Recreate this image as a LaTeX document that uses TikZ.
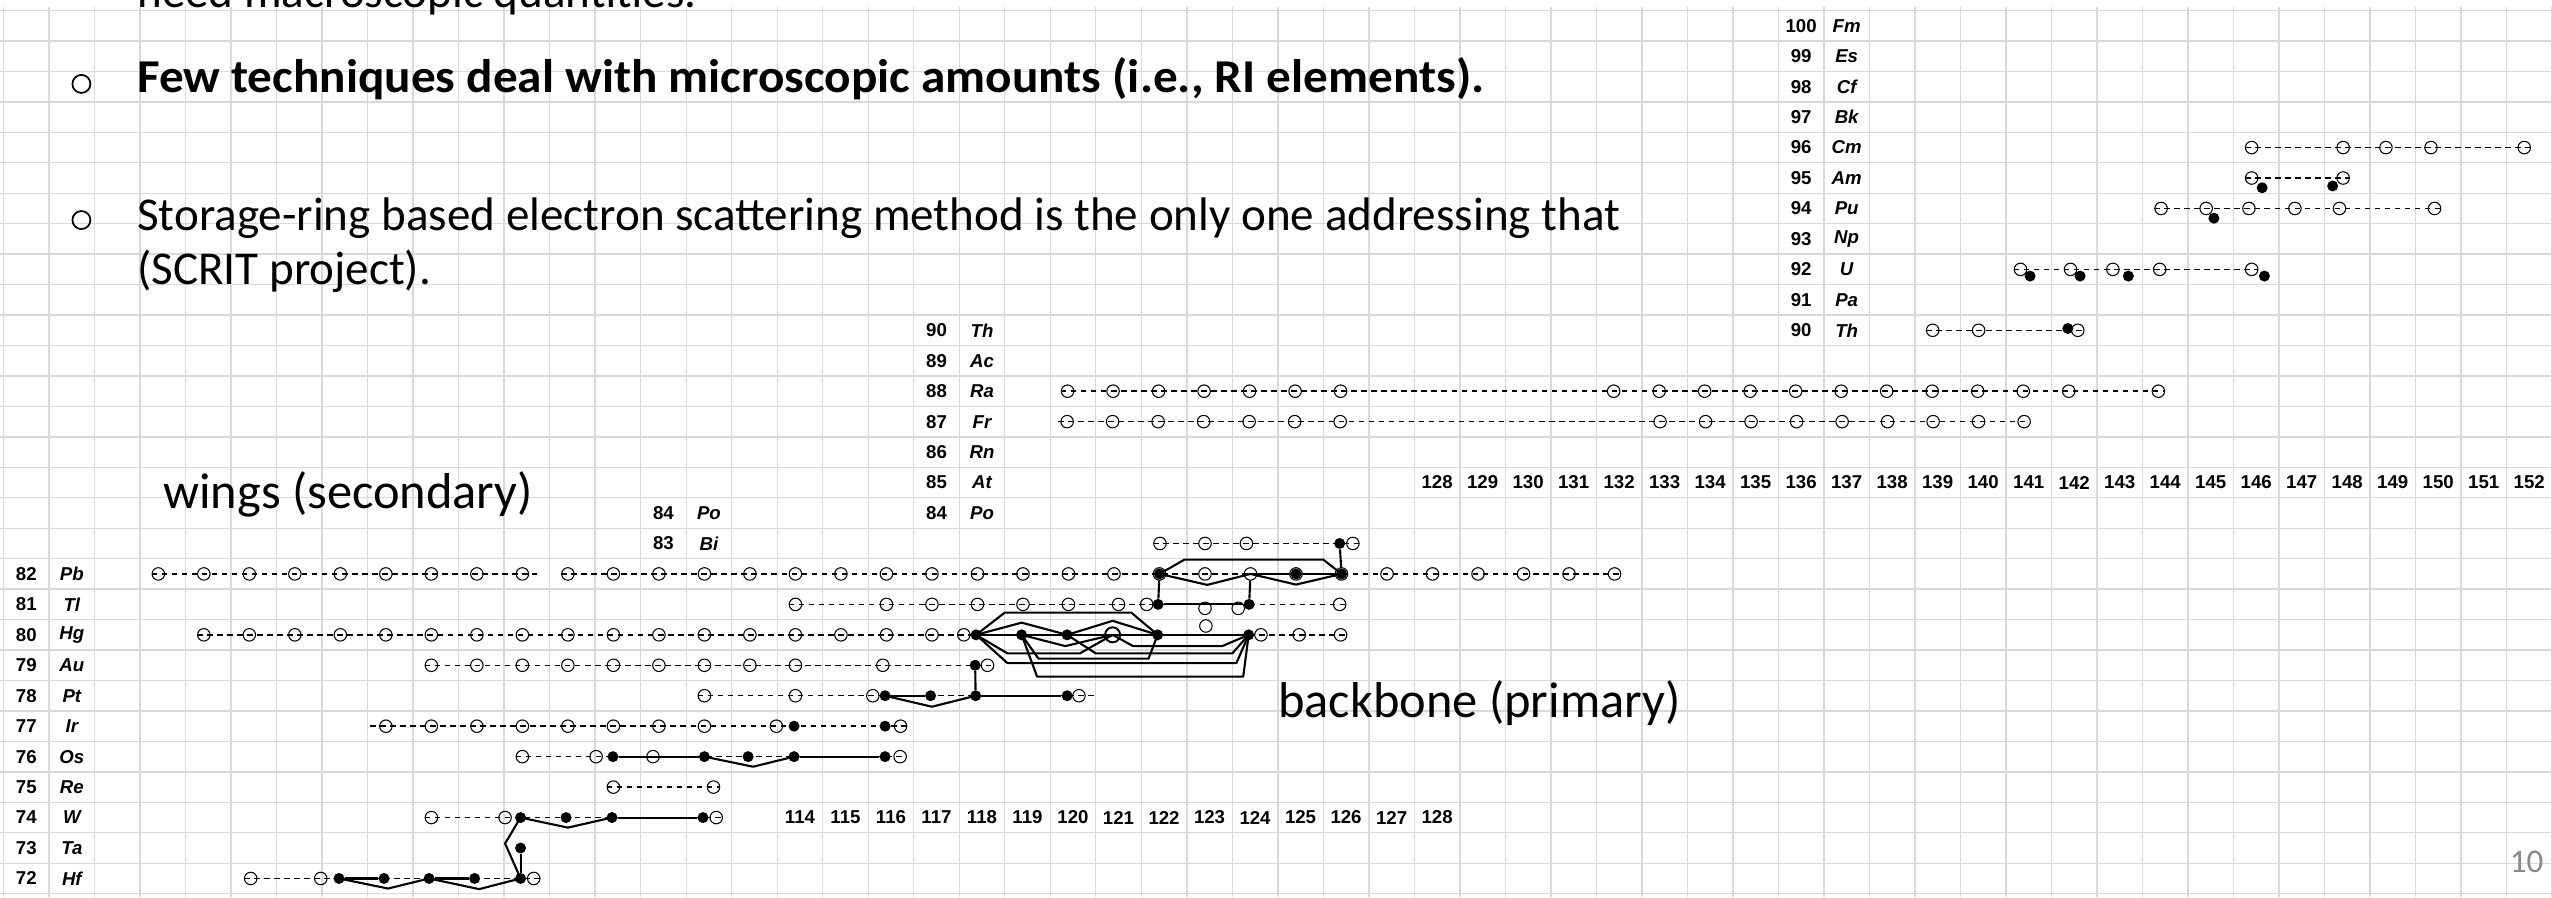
\documentclass[tikz,border=0pt]{standalone}
\usepackage{fontspec}
\usepackage{graphicx}
\setmainfont{Carlito}
\newfontfamily\cellfont{Liberation Sans}
\usetikzlibrary{positioning}
\definecolor{sheetgrid}{RGB}{217,217,217}
\definecolor{pagegray}{RGB}{137,137,137}

\begin{document}
\begin{tikzpicture}[
    x=0.91cm, y=-0.609cm,
    every node/.style={inner sep=0pt},
    gridline/.style={sheetgrid, line width=0.8pt},
    zlabel/.style={font=\cellfont\bfseries\fontsize{10.6}{12}\selectfont},
    symlabel/.style={font=\cellfont\bfseries\itshape\fontsize{10.6}{12}\selectfont},
    iso/.style={circle, draw, line width=0.6pt, minimum size=0.25cm},
    bigiso/.style={circle, draw, line width=1.1pt, minimum size=0.3cm},
    hit/.style={circle, fill, minimum size=0.22cm},
    chain/.style={dash pattern=on 3.2pt off 2.5pt, line width=0.8pt},
    backbone/.style={line width=1.2pt, line join=round},
    bullet/.style={circle, draw, line width=1pt, minimum size=0.36cm},
    slide/.style={anchor=base west, font=\fontsize{26.8}{32}\selectfont},
    remark/.style={anchor=west, font=\fontsize{28.7}{34}\selectfont}
]
    % sheet and grid
    \fill[white] (-0.079,-0.345) rectangle (56,29.11);
    \useasboundingbox (-0.079,-0.345) rectangle (56,29.11);
    \foreach \c in {0,...,56} \draw[gridline] (\c,-0.12) -- (\c,29.11);
    \foreach \r in {0,...,29} \draw[gridline] (-0.079,\r) -- (56,\r);

    % slide text
    \node[slide] (line0) at (2.93,-0.105) {need macroscopic quantities.};
    \node[bullet] (dot1) at (1.71,2.41) {};
    \node[slide] (line1) at (2.93,2.68) {\scalebox{1.045}[1]{\textbf{Few techniques deal with microscopic amounts (i.e., RI elements).}}};
    \node[bullet] (dot2) at (1.71,6.88) {};
    \node[slide] (line2) at (2.93,7.21) {Storage-ring based electron scattering method is the only one addressing that};
    \node[slide] (line3) at (2.93,9.01) {(SCRIT project).};
    \node[remark] (wings) at (3.5,15.9) {wings (secondary)};
    \node[remark] (bbone) at (28.0,22.75) {backbone (primary)};
    \node[font=\fontsize{18.8}{22}\selectfont, text=pagegray] (pageno) at (55.44,27.95) {10};

    % element columns
    \foreach \z/\s [count=\r from 0] in {100/Fm,99/Es,98/Cf,97/Bk,96/Cm,95/Am,94/Pu,93/Np,92/U,91/Pa,90/Th} {
        \node[zlabel] (tz\z) at (39.5,\r+0.5) {\z};
        \node[symlabel] (ts\z) at (40.5,\r+0.5) {\s};
    }
    \foreach \z/\s [count=\r from 10] in {90/Th,89/Ac,88/Ra,87/Fr,86/Rn,85/At,84/Po} {
        \node[zlabel] (mz\z) at (20.5,\r+0.5) {\z};
        \node[symlabel] (ms\z) at (21.5,\r+0.5) {\s};
    }
    \foreach \z/\s [count=\r from 16] in {84/Po,83/Bi} {
        \node[zlabel] (uz\z) at (14.5,\r+0.5) {\z};
        \node[symlabel] (us\z) at (15.5,\r+0.5) {\s};
    }
    \foreach \z/\s [count=\r from 18] in {82/Pb,81/Tl,80/Hg,79/Au,78/Pt,77/Ir,76/Os,75/Re,74/W,73/Ta,72/Hf} {
        \node[zlabel] (bz\z) at (0.5,\r+0.5) {\z};
        \node[symlabel] (bs\z) at (1.5,\r+0.5) {\s};
    }
    % neutron numbers
    \foreach \n in {128,...,152} \node[zlabel] (nm\n) at (\n-96.5,15.5) {\n};
    \foreach \n in {114,...,128} \node[zlabel] (nb\n) at (\n-96.5,26.5) {\n};

    % actinides
    \foreach \n/\x in {146/49.4,148/51.41,149/52.35,150/53.34,152/55.39}
        \node[iso] (Cm\n) at (\x,4.5) {};
    \draw[chain] (Cm146.west) -- (Cm152.east);
    \node[iso] (Am146) at (49.4,5.5) {};
    \node[iso] (Am148) at (51.41,5.5) {};
    \node[hit] (Am146f) at (49.63,5.82) {};
    \node[hit] (Am148f) at (51.18,5.76) {};
    \draw[chain] (Am146.west) -- (Am148.east);
    \foreach \n/\x in {144/47.41,145/48.4,146/49.34,147/50.35,148/51.33,150/53.42}
        \node[iso] (Pu\n) at (\x,6.5) {};
    \node[hit] (Pu145f) at (48.57,6.82) {};
    \coordinate (pustart) at (47.26,6.5);
    \draw[chain] (pustart) -- (Pu150.east);
    \foreach \n/\x in {141/44.32,142/45.42,143/46.35,144/47.38,146/49.4}
        \node[iso] (U\n) at (\x,8.5) {};
    \foreach \n/\x in {141/44.53,142/45.63,143/46.69,146/49.68}
        \node[hit] (U\n f) at (\x,8.72) {};
    \draw[chain] (U141.west) -- (U146.east);
    \node[iso] (Th139) at (42.39,10.5) {};
    \node[iso] (Th140) at (43.4,10.5) {};
    \node[iso] (Th142) at (45.58,10.5) {};
    \node[hit] (Th142f) at (45.36,10.44) {};
    \coordinate (thend) at (45.75,10.5);
    \draw[chain] (Th139.west) -- (thend);

    % Ra and Fr
    \foreach \n in {120,...,126} \node[iso] (Ra\n) at (\n-96.62,12.5) {};
    \foreach \n in {132,...,142} \node[iso] (Ra\n) at (\n-96.62,12.5) {};
    \node[iso] (Ra144) at (47.35,12.5) {};
    \draw[chain] (Ra120.west) -- (Ra144.east);
    \foreach \n in {120,...,126} \node[iso] (Fr\n) at (\n-96.63,13.5) {};
    \foreach \n in {133,...,141} \node[iso] (Fr\n) at (\n-96.6,13.5) {};
    \coordinate (frstart) at (23.17,13.5);
    \draw[chain] (frstart) -- (Fr141.east);

    % Hf .. Bi
    \foreach \n/\x in {122/25.41,123/26.4,124/27.31,126/29.65} \node[iso] (Bi\n) at (\x,17.5) {};
    \node[hit] (Bi126f) at (29.36,17.5) {};
    \draw[chain] (Bi122.west) -- (Bi126.east);
    \foreach \n in {100,...,132} \node[iso] (Pb\n) at (\n-96.6,18.5) {};
    \foreach \n in {122,125,126} \node[hit] (Pb\n f) at (Pb\n) {};
    \coordinate (pbgap) at (11.72,18.5);
    \draw[chain] (Pb100.west) -- (pbgap);
    \draw[chain] (Pb109.west) -- (Pb132.east);
    \foreach \n/\x in {114/17.4,116/19.4,117/20.4,118/21.4,119/22.4,120/23.4,121/24.5,122/25.12,126/29.36}
        \node[iso] (Tl\n) at (\x,19.5) {};
    \node[iso] (Tl123) at (26.4,19.63) {};
    \node[iso] (Tl124) at (27.13,19.63) {};
    \node[hit] (Tl122f) at (25.37,19.5) {};
    \node[hit] (Tl124f) at (27.37,19.5) {};
    \draw[chain] (Tl114.west) -- (Tl126.east);
    \foreach \n in {101,...,117} \node[iso] (Hg\n) at (\n-96.6,20.5) {};
    \foreach \n/\x in {118/21.1,124/27.63,125/28.47,126/29.38} \node[iso] (Hg\n) at (\x,20.5) {};
    \node[bigiso] (Hg121) at (24.37,20.5) {};
    \node[iso] (Hg123) at (26.42,20.21) {};
    \foreach \n/\x in {118/21.37,119/22.37,120/23.37,122/25.36,124/27.36} \node[hit] (Hg\n f) at (\x,20.5) {};
    \draw[chain] (Hg101.west) -- (Hg126.east);
    \foreach \n in {106,...,114} \node[iso] (Au\n) at (\n-96.6,21.5) {};
    \node[iso] (Au116) at (19.32,21.5) {};
    \node[iso] (Au118) at (21.62,21.5) {};
    \node[hit] (Au118f) at (21.35,21.5) {};
    \draw[chain] (Au106.west) -- (Au118.east);
    \foreach \n/\x in {112/15.4,114/17.4,116/19.1,120/23.63} \node[iso] (Pt\n) at (\x,22.5) {};
    \foreach \n/\x in {116/19.37,117/20.37,118/21.36,120/23.37} \node[hit] (Pt\n f) at (\x,22.5) {};
    \coordinate (ptend) at (24.0,22.5);
    \draw[chain] (Pt112.west) -- (ptend);
    \foreach \n in {105,...,112} \node[iso] (Ir\n) at (\n-96.6,23.5) {};
    \node[iso] (Ir113) at (16.98,23.5) {};
    \node[iso] (Ir116) at (19.71,23.5) {};
    \node[hit] (Ir114f) at (17.37,23.5) {};
    \node[hit] (Ir116f) at (19.37,23.5) {};
    \coordinate (irstart) at (8.05,23.5);
    \draw[chain] (irstart) -- (Ir116.east);
    \foreach \n/\x in {108/11.4,110/13.02,111/14.27,116/19.7} \node[iso] (Os\n) at (\x,24.5) {};
    \foreach \n/\x in {110/13.39,112/15.4,113/16.36,114/17.37,116/19.37} \node[hit] (Os\n f) at (\x,24.5) {};
    \draw[chain] (Os108.west) -- (Os116.east);
    \node[iso] (Re110) at (13.4,25.5) {};
    \node[iso] (Re112) at (15.6,25.5) {};
    \draw[chain] (Re110.west) -- (Re112.east);
    \foreach \n/\x in {106/9.4,108/11.02,112/15.66} \node[iso] (W\n) at (\x,26.5) {};
    \foreach \n/\x in {108/11.36,109/12.36,110/13.37,112/15.37} \node[hit] (W\n f) at (\x,26.5) {};
    \draw[chain] (W106.west) -- (W112.east);
    \node[hit] (Ta108f) at (11.36,27.5) {};
    \foreach \n/\x in {102/5.43,104/6.97,108/11.65} \node[iso] (Hf\n) at (\x,28.5) {};
    \foreach \n/\x in {104/7.37,105/8.36,106/9.35,107/10.35,108/11.36} \node[hit] (Hf\n f) at (\x,28.5) {};
    \draw[chain] (Hf102.west) -- (Hf108.east);

    % backbone links
    \draw[backbone] (Hf104f) -- (Hf105f);
    \draw[backbone] (Hf106f) -- (Hf107f);
    \draw[backbone] (Hf104f.center) -- (8.45,28.83) -- (Hf106f.center) -- (10.45,28.85) -- (Hf108f.center);
    \draw[backbone] (Ta108f) -- (Hf108f);
    \draw[backbone] (W108f.center) -- (11.02,27.35) -- (Hf108f.center);
    \draw[backbone] (W108f.center) -- (12.4,26.83) -- (W110f.center);
    \draw[backbone] (W110f) -- (W112f);
    \draw[backbone] (Os110f) -- (Os112f);
    \draw[backbone] (Os112f.center) -- (16.47,24.83) -- (Os114f.center);
    \draw[backbone] (Os114f) -- (Os116f);
    \draw[backbone] (Pt116f) -- (Pt117f);
    \draw[backbone] (Pt116f.center) -- (20.4,22.86) -- (Pt118f.center);
    \draw[backbone] (Pt118f) -- (Pt120f);
    \draw[backbone] (Au118f) -- (Pt118f);
    \draw[backbone] (Hg118f) -- (Hg124f);
    \draw[backbone] (Hg118f.center) -- (22.0,19.77) -- (24.78,19.77) -- (Hg122f.center);
    \draw[backbone] (Hg118f.center) -- (22.37,20.1) -- (Hg120f.center) -- (24.37,20.04) -- (Hg122f.center);
    \draw[backbone] (Hg119f.center) -- (23.33,20.87) -- (Hg121.center);
    \draw[backbone] (Hg118f.center) -- (22.06,21.11) -- (23.65,21.11) -- (Hg121.center);
    \draw[backbone] (Hg120f.center) -- (24.0,21.11) -- (27.0,21.11) -- (Hg124f.center);
    \draw[backbone] (Hg121.center) -- (24.82,20.87) -- (26.78,20.87) -- (Hg124f.center);
    \draw[backbone] (Hg118f.center) -- (22.06,21.43) -- (27.09,21.43) -- (Hg124f.center);
    \draw[backbone] (Hg119f.center) -- (22.74,21.28) -- (25.16,21.28) -- (Hg122f.center);
    \draw[backbone] (Hg119f.center) -- (22.71,21.87) -- (27.24,21.87) -- (Hg124f.center);
    \draw[backbone] (Tl122f) -- (Tl124f);
    \draw[backbone] (Pb122f) -- (Tl122f);
    \draw[backbone] (Pb124) -- (Tl124f);
    \draw[backbone] (Pb124) -- (Pb126f);
    \draw[backbone] (Pb122f.center) -- (25.95,18.03) -- (29.0,18.03) -- (Pb126f.center);
    \draw[backbone] (Pb122f.center) -- (26.45,18.86) -- (Pb124.center) -- (28.4,18.85) -- (Pb126f.center);
    \draw[backbone] (Bi126f) -- (Pb126f);
\end{tikzpicture}
\end{document}
